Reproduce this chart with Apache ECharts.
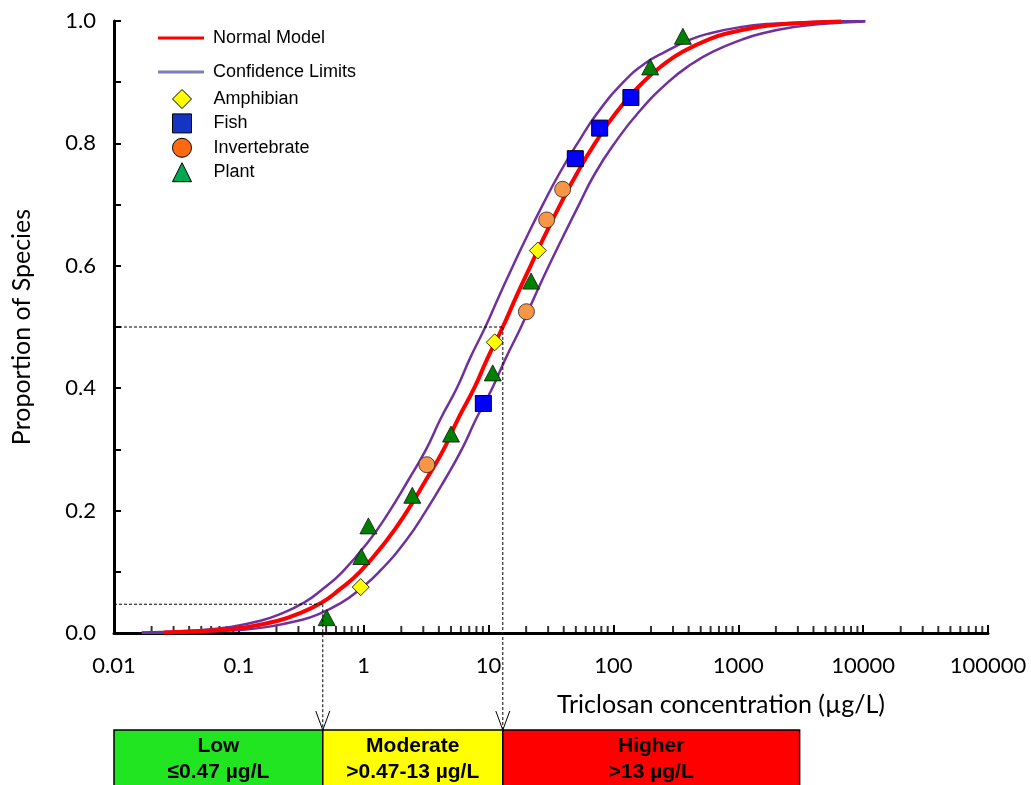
<!DOCTYPE html>
<html>
<head>
<meta charset="utf-8">
<script src="https://cdn.jsdelivr.net/npm/echarts@6/dist/echarts.min.js"></script>
<style>html,body{margin:0;padding:0;background:#fff}#c{width:1031px;height:785px}</style>
</head>
<body>
<div id="c"></div>
<script>
// ---- data ----
const xTickLabels = ['0.01','0.1','1','10','100','1000','10000','100000'];
const yTickLabels = ['0.0','0.2','0.4','0.6','0.8','1.0'];

// [concentration µg/L, proportion of species]
const amphibian = [[0.946,0.075],[11.2,0.475],[24.8,0.625]];
const fish = [[9.08,0.375],[49.5,0.775],[77.6,0.825],[138,0.875]];
const invertebrate = [[3.2,0.275],[20.1,0.525],[29.2,0.675],[39.2,0.725]];
const plant = [[0.505,0.025],[0.958,0.125],[1.09,0.175],[2.45,0.225],[5.0,0.325],[10.8,0.425],[21.9,0.575],[197,0.925],[360,0.975]];

const normalModel = [[0.0251,0.001],[0.0716,0.005],[0.1186,0.01],[0.2056,0.02],[0.288,0.03],[0.462,0.05],[0.631,0.07],[0.933,0.1],[1.51,0.15],[2.24,0.2],[3.15,0.25],[4.37,0.3],[5.7,0.35],[7.67,0.4],[9.86,0.45],[13,0.5],[16.7,0.55],[21.7,0.6],[28.3,0.65],[37.5,0.7],[50.7,0.75],[71.1,0.8],[105,0.85],[173,0.9],[256,0.93],[361,0.95],[581,0.97],[822,0.98],[1426,0.99],[2360,0.995],[6670,0.999]];
const upperLimit = [[0.0167,0.0007],[0.0519,0.005],[0.0859,0.01],[0.149,0.02],[0.209,0.03],[0.335,0.05],[0.457,0.07],[0.676,0.1],[1.096,0.15],[1.62,0.2],[2.28,0.25],[3.16,0.3],[4.13,0.35],[5.56,0.4],[7.14,0.45],[9.42,0.5],[12.1,0.55],[15.7,0.6],[20.5,0.65],[27.2,0.7],[36.7,0.75],[51.5,0.8],[74.6,0.85],[120,0.9],[177,0.93],[261,0.95],[416,0.97],[596,0.98],[1033,0.99],[1710,0.995],[4830,0.999],[10400,0.9998]];
const lowerLimit = [[0.0167,0.0003],[0.0363,0.001],[0.1035,0.005],[0.171,0.01],[0.297,0.02],[0.427,0.03],[0.668,0.05],[0.912,0.07],[1.33,0.1],[2.16,0.15],[3.16,0.2],[4.45,0.25],[6.1,0.3],[7.96,0.35],[10.7,0.4],[13.8,0.45],[18.2,0.5],[23.4,0.55],[30.4,0.6],[40,0.65],[53,0.7],[70.8,0.75],[102,0.8],[158,0.85],[274,0.9],[425,0.93],[627,0.95],[1081,0.97],[1567,0.98],[2780,0.99],[4570,0.995],[10400,0.999]];

// hazard concentrations (HC5, HC50) and their proportions
const hcValues = [0.47, 13];
const hcLevels = [0.047, 0.5];

// risk bands
const riskBounds = [0.01, 0.47, 13, 3100];
const riskNames = ['Low','Moderate','Higher'];
const riskRanges = ['\u22640.47 \u00b5g/L','>0.47-13 \u00b5g/L','>13 \u00b5g/L'];
const riskColors = ['#22E522','#FFFF00','#FF0000'];

// minor tick positions of the log axis (2..9 in each decade)
const xMinorTicks = [];
for (let k = -2; k <= 4; k++) for (let m = 2; m <= 9; m++) xMinorTicks.push(Number((m * Math.pow(10, k)).toPrecision(3)));

const chart = echarts.init(document.getElementById('c'));
const tickFont = 'Lato, "Noto Sans", sans-serif';
const legFont = '"Liberation Sans", Arial, sans-serif';

const option = {
  animation: false,
  backgroundColor: '#fff',
  grid: { left: 114, right: 43, top: 21, bottom: 152, containLabel: false },
  xAxis: {
    type: 'log', logBase: 10, min: 0.01, max: 100000,
    axisLine: { show: true, onZero: false, lineStyle: { color: '#000', width: 3 } },
    axisTick: { show: true, inside: true, length: 8, lineStyle: { color: '#000', width: 2 } },
    minorTick: { show: false },
    splitLine: { show: false },
    axisLabel: {
      margin: 22, color: '#000', fontFamily: tickFont, fontSize: 22,
      formatter: v => xTickLabels[Math.round(Math.log10(v)) + 2]
    }
  },
  yAxis: {
    type: 'value', min: 0, max: 1, interval: 0.2,
    axisLine: { show: true, lineStyle: { color: '#000', width: 3 } },
    axisTick: { show: true, inside: true, length: 7, lineStyle: { color: '#000', width: 2 } },
    minorTick: { show: true, splitNumber: 2, length: 7, lineStyle: { color: '#000', width: 2 } },
    splitLine: { show: false },
    axisLabel: {
      margin: 18, color: '#000', fontFamily: tickFont, fontSize: 22,
      formatter: v => yTickLabels[Math.round(v / 0.2)]
    },
    name: 'Proportion of Species', nameLocation: 'middle', nameGap: 80,
    nameTextStyle: { color: '#000', fontFamily: tickFont, fontSize: 25 }
  },
  legend: [
    {
      orient: 'vertical', left: 153, top: 24, itemWidth: 46, itemHeight: 14, itemGap: 16,
      selectedMode: false,
      textStyle: { fontFamily: legFont, fontSize: 18, color: '#000', padding: [0, 0, 0, 4] },
      data: [
        { name: 'Normal Model', icon: 'path://M0,6H46V9H0Z', itemStyle: { color: '#FF0000' } },
        { name: 'Confidence Limits', icon: 'path://M0,6H46V9H0Z', itemStyle: { color: '#7F7FB8' } }
      ]
    },
    {
      orient: 'vertical', left: 167, top: 84, itemWidth: 19, itemHeight: 19, itemGap: 4.4,
      selectedMode: false,
      textStyle: { fontFamily: legFont, fontSize: 18, color: '#000', padding: [0, 0, 0, 17] },
      data: [
        { name: 'Amphibian', icon: 'diamond', itemStyle: { color: '#FFFF00', borderColor: '#000', borderWidth: 1 } },
        { name: 'Fish', icon: 'rect', itemStyle: { color: '#1434C4', borderColor: '#000', borderWidth: 1 } },
        { name: 'Invertebrate', icon: 'circle', itemStyle: { color: '#FF6A10', borderColor: '#000', borderWidth: 1 } },
        { name: 'Plant', icon: 'triangle', itemStyle: { color: '#00A84F', borderColor: '#000', borderWidth: 1 } }
      ]
    }
  ],
  series: [
    {
      name: 'minor ticks', type: 'scatter', data: xMinorTicks.map(v => [v, 0]),
      symbol: 'rect', symbolSize: [2, 7], symbolOffset: [0, -3.5],
      itemStyle: { color: '#000' }, silent: true, clip: false, z: 1
    },
    {
      name: 'Confidence Limits', type: 'line', data: upperLimit, smooth: 0.5, symbol: 'none',
      lineStyle: { color: '#7030A0', width: 2.5 }, itemStyle: { color: '#7030A0' }, z: 2
    },
    {
      name: 'Confidence Limits', type: 'line', data: lowerLimit, smooth: 0.5, symbol: 'none',
      lineStyle: { color: '#7030A0', width: 2.5 }, itemStyle: { color: '#7030A0' }, z: 2
    },
    {
      name: 'Normal Model', type: 'line', data: normalModel, smooth: 0.5, symbol: 'none',
      lineStyle: { color: '#FF0000', width: 4 }, itemStyle: { color: '#FF0000' }, z: 3
    },
    {
      name: 'Amphibian', type: 'scatter', data: amphibian, symbol: 'diamond', symbolSize: 17,
      itemStyle: { color: '#FFFF00', borderColor: '#000', borderWidth: 0.8, opacity: 1 }, z: 5
    },
    {
      name: 'Fish', type: 'scatter', data: fish, symbol: 'rect', symbolSize: 16,
      itemStyle: { color: '#0000FF', borderColor: '#000', borderWidth: 1, opacity: 1 }, z: 5
    },
    {
      name: 'Invertebrate', type: 'scatter', data: invertebrate, symbol: 'circle', symbolSize: 16,
      itemStyle: { color: '#F79646', borderColor: '#222', borderWidth: 0.8, opacity: 1 }, z: 5
    },
    {
      name: 'Plant', type: 'scatter', data: plant, symbol: 'triangle', symbolSize: [17, 16],
      itemStyle: { color: '#008000', borderColor: '#111', borderWidth: 0.8, opacity: 1 }, z: 5
    }
  ]
};

chart.setOption(option);

// ---- annotations built through the chart's own scales ----
const P = (x, y) => chart.convertToPixel({ gridIndex: 0 }, [x, y]);
const boxTop = 730, boxBottom = 792;
const graphics = [];
for (let i = 0; i < hcValues.length; i++) {
  const a = P(riskBounds[0], hcLevels[i]);
  const b = P(hcValues[i], hcLevels[i]);
  graphics.push({
    type: 'line', shape: { x1: a[0], y1: b[1], x2: b[0], y2: b[1] },
    style: { stroke: '#000', lineWidth: 1, lineDash: [3, 2] }, z: 10
  });
  graphics.push({
    type: 'line', shape: { x1: b[0], y1: b[1], x2: b[0], y2: boxTop },
    style: { stroke: '#000', lineWidth: 1, lineDash: [3, 2] }, z: 10
  });
  graphics.push({
    type: 'polyline', shape: { points: [[b[0] - 7, boxTop - 19], [b[0], boxTop], [b[0] + 7, boxTop - 19]] },
    style: { stroke: '#000', lineWidth: 1, fill: null }, z: 10
  });
}
for (let i = 0; i < riskNames.length; i++) {
  const x1 = P(riskBounds[i], 0)[0];
  const x2 = P(riskBounds[i + 1], 0)[0];
  graphics.push({
    type: 'rect', shape: { x: x1, y: boxTop, width: x2 - x1, height: boxBottom - boxTop },
    style: { fill: riskColors[i], stroke: '#000', lineWidth: 1.5 }, z: 8
  });
  graphics.push({
    type: 'text', x: (x1 + x2) / 2, y: 746,
    style: { text: riskNames[i], fill: '#000', font: 'bold 21px "Liberation Sans", Arial, sans-serif', textAlign: 'center', textVerticalAlign: 'middle' }, z: 9
  });
  graphics.push({
    type: 'text', x: (x1 + x2) / 2, y: 772,
    style: { text: riskRanges[i], fill: '#000', font: 'bold 21px "Liberation Sans", Arial, sans-serif', textAlign: 'center', textVerticalAlign: 'middle' }, z: 9
  });
}
graphics.push({
  type: 'text', x: 557, y: 705,
  style: { text: 'Triclosan concentration (\u00b5g/L)', fill: '#000', font: '25px Lato, "Noto Sans", sans-serif', textAlign: 'left', textVerticalAlign: 'middle' }, z: 9
});
chart.setOption({ graphic: graphics });
</script>
</body>
</html>
